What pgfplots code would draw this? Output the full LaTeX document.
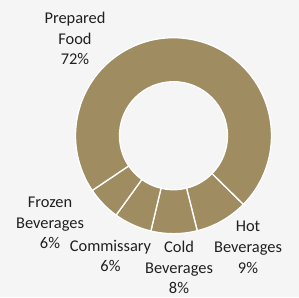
\documentclass[border=0pt]{standalone}
\usepackage{pgfplots}
\usepackage{pgfplotstable}
\pgfplotsset{compat=1.18}
\usetikzlibrary{calc}
\usepackage{fontspec}
\setmainfont{Carlito}
\definecolor{gold}{HTML}{A08C61}
\definecolor{bg}{HTML}{F5F5F5}
\definecolor{txt}{HTML}{202020}
\pgfplotstableread{
name value
Hot 8.75
Cold 7.6
Commissary 6.25
Frozen 5.6
Prepared 71.8
}\datatable
\begin{document}
\begin{tikzpicture}
\begin{axis}[
  x=0.75pt, y=0.75pt,
  xmin=0, xmax=299, ymin=0, ymax=297,
  hide axis, clip=false, scale only axis,
]
\pgfplotsextra{
  \fill[bg] (axis cs:0,0) rectangle (axis cs:299,297);
  \coordinate (C) at (axis cs:173.5,161.3);
  \def\Ro{73.5pt}
  \def\Ri{40.5pt}
  \xdef\cur{315.5}
  \foreach \i in {0,...,4} {
    \pgfplotstablegetelem{\i}{value}\of\datatable
    \pgfmathsetmacro\sweep{3.6*\pgfplotsretval}
    \pgfmathsetmacro\nxt{\cur-\sweep}
    \fill[gold,draw=white,line width=1pt]
      ($(C)+(\cur:\Ro)$) arc[start angle=\cur,end angle=\nxt,radius=\Ro]
      -- ($(C)+(\nxt:\Ri)$) arc[start angle=\nxt,end angle=\cur,radius=\Ri]
      -- cycle;
    \xdef\cur{\nxt}
  }
}
\tikzset{lbl/.style={align=center,text=txt,font=\fontsize{12.3}{15.4}\selectfont,inner sep=0pt}}
\node[lbl] at (axis cs:75,258.5) {Prepared\\Food\\72\%};
\node[lbl] at (axis cs:50,74) {Frozen\\Beverages\\6\%};
\node[lbl] at (axis cs:110.5,41.1) {Commissary\\6\%};
\node[lbl] at (axis cs:179,29.5) {Cold\\Beverages\\8\%};
\node[lbl] at (axis cs:248,49.7) {Hot\\Beverages\\9\%};
\end{axis}
\end{tikzpicture}
\end{document}
